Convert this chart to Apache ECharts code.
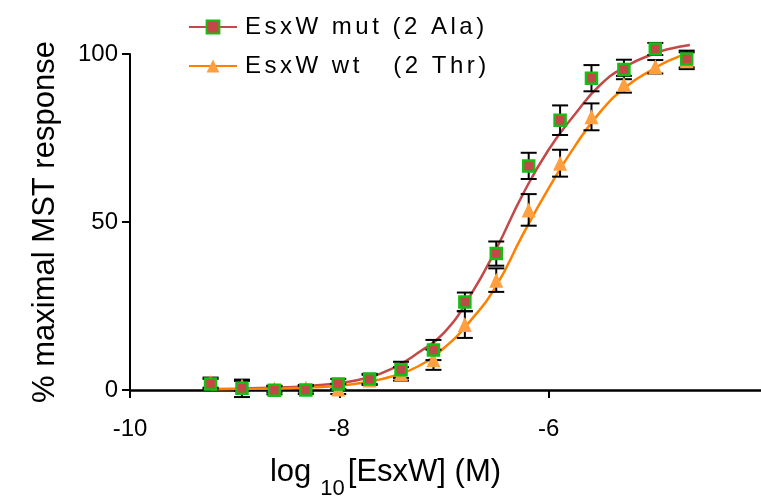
<!DOCTYPE html>
<html>
<head>
<meta charset="utf-8">
<script src="https://cdn.jsdelivr.net/npm/echarts@6/dist/echarts.min.js"></script>
<style>
  html, body { margin: 0; padding: 0; background: #fff; }
  #chart { width: 761px; height: 497px; }
</style>
</head>
<body>
<div id="chart"></div>
<script>
// log10 of EsxW concentration (two-fold dilution series)
const logConc = [-9.23, -8.93, -8.62, -8.32, -8.01, -7.71, -7.41, -7.10, -6.80, -6.50, -6.19, -5.89, -5.59, -5.28, -4.98, -4.68];

// EsxW mut (2 Ala): mean response and error
const mutMean = [1.8, 0.5, -0.1, 0.0, 1.8, 3.3, 6.0, 11.9, 26.2, 40.6, 66.7, 80.3, 92.8, 95.4, 101.5, 98.5];
const mutErr  = [1.5, 2.6, 1.2, 1.2, 1.5, 1.5, 2.4, 3.0, 2.8, 3.6, 3.9, 4.4, 3.9, 2.9, 1.8, 2.5];

// EsxW wt (2 Thr): mean response and error
const wtMean = [2.2, 1.2, 0.3, 0.5, 0.3, 3.0, 4.8, 9.0, 19.5, 32.7, 53.6, 67.5, 81.3, 91.0, 96.2, 98.0];
const wtErr  = [1.5, 1.5, 1.0, 1.0, 1.5, 1.5, 2.0, 3.0, 4.0, 3.5, 4.7, 4.0, 4.0, 2.5, 2.0, 2.5];

// fitted dose-response curves
const fitX   = [-9.23, -9.0, -8.75, -8.5, -8.25, -8.0, -7.75, -7.5, -7.25, -7.0, -6.75, -6.5, -6.25, -6.0, -5.75, -5.5, -5.25, -5.0, -4.85, -4.65];
const mutFit = [0.3, 0.4, 0.6, 0.8, 1.3, 2.1, 3.5, 6.3, 11.0, 17.0, 28.0, 42.0, 58.0, 71.5, 82.0, 91.0, 96.5, 100.0, 101.5, 102.7];
const wtFit  = [0.2, 0.3, 0.4, 0.5, 0.8, 1.3, 2.3, 4.0, 7.0, 12.5, 20.5, 31.0, 46.0, 60.0, 72.5, 83.0, 90.5, 95.5, 98.0, 100.5];

// axis ticks
const xTicks = [-10, -8, -6];
const yTicks = [0, 50, 100];

const mutName = 'EsxW mut (2 Ala)';
const wtName  = 'EsxW wt   (2 Thr)';

const FONT = '"Liberation Sans", Arial, sans-serif';
const RED = '#C44848';
const GREEN = '#14BE14';
const ORANGE = '#FF8000';
const ORANGE_FILL = '#FFA040';

const zip = (xs, ys) => xs.map((x, i) => [x, ys[i]]);
const bars = (xs, m, e) => xs.map((x, i) => [x, m[i] - e[i], m[i] + e[i]]);

// legend text is drawn with a little extra tracking between characters
const spaced = s => s.split('').map(c => '{s|' + c + '}').join('');

function errorBar(params, api) {
  const x = api.value(0);
  const lo = api.coord([x, api.value(1)]);
  const hi = api.coord([x, api.value(2)]);
  const hw = 8;
  const st = { stroke: '#000', lineWidth: 2 };
  return {
    type: 'group',
    children: [
      { type: 'line', shape: { x1: lo[0], y1: lo[1], x2: hi[0], y2: hi[1] }, style: st },
      { type: 'line', shape: { x1: lo[0] - hw, y1: lo[1], x2: lo[0] + hw, y2: lo[1] }, style: st },
      { type: 'line', shape: { x1: hi[0] - hw, y1: hi[1], x2: hi[0] + hw, y2: hi[1] }, style: st }
    ]
  };
}

const chart = echarts.init(document.getElementById('chart'));
chart.setOption({
  animation: false,
  backgroundColor: '#fff',
  grid: { left: 130, right: 0, top: 54, bottom: 107, outerBoundsMode: 'none', containLabel: false },
  legend: {
    data: [mutName, wtName],
    orient: 'vertical',
    left: 183,
    top: 10,
    itemWidth: 48,
    itemHeight: 16,
    itemGap: 15,
    formatter: n => spaced(n),
    textStyle: {
      padding: [0, 0, 0, 3],
      rich: { s: { fontFamily: FONT, fontSize: 24, color: '#000', padding: [0, 3.5, 0, 0], lineHeight: 26 } }
    }
  },
  xAxis: {
    type: 'value',
    min: -10,
    max: -3.97,
    interval: 2,
    axisLine: { show: true, onZero: false, lineStyle: { color: '#000', width: 2.5 } },
    axisTick: { show: true, length: 8, customValues: xTicks, lineStyle: { color: '#000', width: 2 } },
    axisLabel: { customValues: xTicks, fontFamily: FONT, fontSize: 24, color: '#000', margin: 27 },
    splitLine: { show: false },
    name: '{a|log}{b|10}{a|[EsxW] (M)}',
    nameLocation: 'middle',
    nameGap: 42,
    nameTextStyle: {
      padding: [0, 120, 0, 0],
      rich: {
        a: { fontFamily: FONT, fontSize: 31, color: '#000', lineHeight: 34 },
        b: { fontFamily: FONT, fontSize: 22, color: '#000', lineHeight: 24, padding: [32, 3, 0, 9] }
      }
    }
  },
  yAxis: {
    type: 'value',
    min: 0,
    max: 100,
    interval: 50,
    axisLine: { show: true, lineStyle: { color: '#000', width: 2 } },
    axisTick: { show: true, length: 8, customValues: yTicks, lineStyle: { color: '#000', width: 2 } },
    axisLabel: { customValues: yTicks, fontFamily: FONT, fontSize: 24, color: '#000', margin: 12 },
    splitLine: { show: false },
    name: '% maximal MST response',
    nameLocation: 'middle',
    nameRotate: 90,
    nameGap: 69,
    nameTextStyle: { fontFamily: FONT, fontSize: 31, color: '#000' }
  },
  series: [
    {
      name: mutName,
      type: 'line',
      data: zip(fitX, mutFit),
      smooth: true,
      showSymbol: false,
      symbol: 'rect',
      clip: false,
      lineStyle: { color: RED, width: 2.5 },
      itemStyle: { color: RED, borderColor: GREEN, borderWidth: 2 },
      z: 2
    },
    {
      name: wtName,
      type: 'line',
      data: zip(fitX, wtFit),
      smooth: true,
      showSymbol: false,
      symbol: 'triangle',
      clip: false,
      lineStyle: { color: ORANGE, width: 2.5 },
      itemStyle: { color: ORANGE_FILL },
      z: 2
    },
    {
      name: 'wt error',
      type: 'custom',
      renderItem: errorBar,
      data: bars(logConc, wtMean, wtErr),
      encode: { x: 0, y: [1, 2] },
      z: 3
    },
    {
      name: 'mut error',
      type: 'custom',
      renderItem: errorBar,
      data: bars(logConc, mutMean, mutErr),
      encode: { x: 0, y: [1, 2] },
      z: 3
    },
    {
      name: 'wt points',
      type: 'scatter',
      data: zip(logConc, wtMean),
      symbol: 'triangle',
      symbolSize: [14, 15],
      clip: false,
      itemStyle: { color: ORANGE_FILL, opacity: 1 },
      z: 4
    },
    {
      name: 'mut points',
      type: 'scatter',
      data: zip(logConc, mutMean),
      symbol: 'rect',
      symbolSize: 11,
      clip: false,
      itemStyle: { color: RED, borderColor: GREEN, borderWidth: 2.5, opacity: 1 },
      z: 5
    }
  ]
});
</script>
</body>
</html>
